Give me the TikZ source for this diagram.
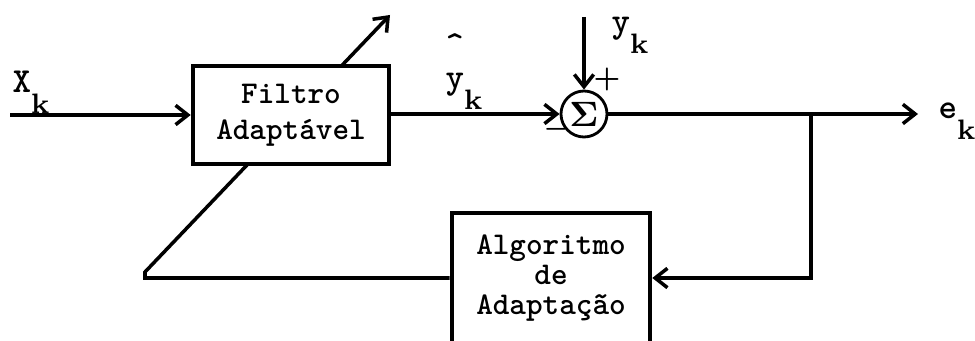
\documentclass[tikz,border=0pt]{standalone}
\usepackage{amsmath}
\usepackage{tikz}
\usetikzlibrary{arrows.meta,backgrounds}

\newcommand{\sinal}[1]{\texttt{#1}\raisebox{-1.3ex}{\footnotesize\bfseries k}}

\begin{document}
\begin{tikzpicture}[x=0.1mm, y=-0.1mm,
  wire/.style={line width=1pt},
  sig/.style={wire, -{Straight Barb[length=3.5pt,width=5.5pt]}},
  blk/.style={draw, line width=1.3pt, fill=white, inner sep=0pt, align=center},
  lbl/.style={inner sep=0pt, anchor=base west, font=\bfseries}]
  \useasboundingbox (0,0) rectangle (975,341);
  % blocos
  \node[blk, minimum width=1.96cm, minimum height=0.98cm, font={\fontsize{9}{10.2}\selectfont\ttfamily\bfseries}] (filt) at (291,115) {Filtro\\Adaptável};
  \node[blk, minimum width=1.98cm, minimum height=1.3cm, font={\fontsize{9}{8.6}\selectfont\ttfamily\bfseries}] (algo) at (551,278) {Algoritmo\\de\\Adaptação};
  \node[draw, circle, line width=0.8pt, fill=white, minimum size=0.46cm, inner sep=0pt] (sum) at (584,114) {$\boldsymbol{\Sigma}$};
  % pontos livres
  \coordinate (xin) at (10,115);
  \coordinate (yin) at (584,17);
  \coordinate (eout) at (918,114);
  \coordinate (tap) at (811,114);
  \coordinate (bend) at (145,272);
  \coordinate (tip) at (390,15);
  % ligacoes
  \draw[sig] (xin) -- (filt);
  \draw[sig] (filt.east |- sum) -- (sum);
  \draw[sig] (yin) -- (sum);
  \draw[sig] (sum) -- (eout);
  \draw[sig] (tap) |- (algo);
  \begin{scope}[on background layer]
    \draw[sig] (algo.west) -- (algo.west -| bend) -- (bend) -- (tip);
  \end{scope}
  % rotulos
  \node[lbl] (xlab) at (12,93) {\sinal{X}};
  \node[lbl] (yhlab) at (445,89) {\sinal{\makebox[0pt][l]{\raisebox{2.2ex}{\textasciicircum}}y}};
  \node[lbl] (ylab) at (611,33) {\sinal{y}};
  \node[lbl] (elab) at (938,119) {\sinal{e}};
  \node[lbl] (plus) at (593,87) {\footnotesize$\boldsymbol{+}$};
  \node[lbl] (minus) at (543,136) {\scriptsize$\boldsymbol{-}$};
\end{tikzpicture}
\end{document}
